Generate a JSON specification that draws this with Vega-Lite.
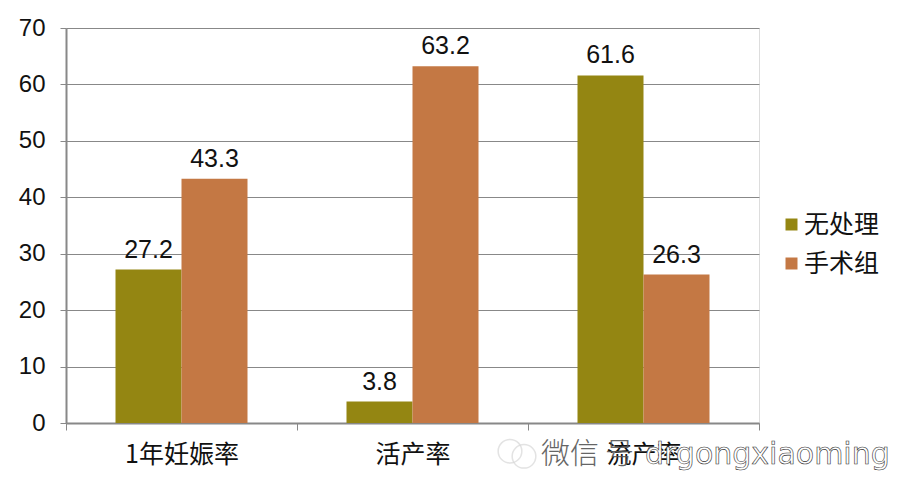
{"$schema":"https://vega.github.io/schema/vega-lite/v6.json","width":693,"height":395,"padding":{"left":66,"top":28,"right":141,"bottom":63},"autosize":{"type":"none"},"background":"white","data":{"values":[{"g":"1年妊娠率","s":"无处理","v":27.2},{"g":"1年妊娠率","s":"手术组","v":43.3},{"g":"活产率","s":"无处理","v":3.8},{"g":"活产率","s":"手术组","v":63.2},{"g":"流产率","s":"无处理","v":61.6},{"g":"流产率","s":"手术组","v":26.3}]},"encoding":{"x":{"field":"g","type":"nominal","sort":null,"scale":{"paddingInner":0,"paddingOuter":0},"axis":{"title":null,"labelAngle":0,"labelFontSize":25,"labelColor":"#111","labelFont":"Noto Sans CJK SC","labelPadding":12,"domainColor":"#888","domainWidth":2,"tickColor":"#888","tickBand":"extent","tickSize":7,"grid":false}},"xOffset":{"field":"s","sort":null,"scale":{"paddingOuter":0.75,"paddingInner":0}},"y":{"field":"v","type":"quantitative","scale":{"domain":[0,70]},"axis":{"title":null,"values":[0,10,20,30,40,50,60,70],"labelFontSize":24,"labelColor":"#111","labelFont":"Liberation Sans","labelPadding":15,"domainColor":"#888","domainWidth":2,"tickColor":"#888","tickSize":6,"gridColor":"#888","gridOpacity":1}}},"layer":[{"mark":{"type":"bar"},"encoding":{"color":{"field":"s","type":"nominal","sort":null,"scale":{"domain":["无处理","手术组"],"range":["#948612","#C47844"]},"legend":{"title":null,"orient":"none","legendX":713,"legendY":184,"labelFontSize":25,"labelFont":"Noto Sans CJK SC","labelColor":"#111","symbolType":"square","symbolSize":144,"symbolStrokeWidth":0,"rowPadding":13,"labelOffset":0}}}},{"mark":{"type":"text","dy":-20,"fontSize":25,"font":"Liberation Sans","color":"#111"},"encoding":{"text":{"field":"v","type":"quantitative","format":".1f"}}},{"data":{"values":[{"g":"流产率","y":-5.0,"o":-18},{"g":"流产率","y":-5.9,"o":-4}]},"mark":{"type":"point","shape":"circle","filled":false,"size":560,"stroke":"#d8d8d8","strokeWidth":1.5},"encoding":{"xOffset":{"field":"o","type":"quantitative","scale":null},"y":{"field":"y","type":"quantitative","scale":{"domain":[0,70]}}}},{"data":{"values":[{"g":"流产率","y":-5.67,"t":"微信","o":13},{"g":"流产率","y":-5.67,"t":"号","o":77}]},"mark":{"type":"text","align":"left","fontSize":29,"font":"Noto Sans CJK SC","fontWeight":300,"fill":"#555","opacity":0.9},"encoding":{"xOffset":{"field":"o","type":"quantitative","scale":null},"y":{"field":"y","type":"quantitative","scale":{"domain":[0,70]}},"text":{"field":"t"}}},{"data":{"values":[{"g":"流产率","y":-5.67,"t":"drgongxiaoming","o":117}]},"mark":{"type":"text","align":"left","fontSize":30,"font":"DejaVu Sans","fill":"white","stroke":"#333","strokeWidth":0.6},"encoding":{"xOffset":{"field":"o","type":"quantitative","scale":null},"y":{"field":"y","type":"quantitative","scale":{"domain":[0,70]}},"text":{"field":"t"}}}]}
